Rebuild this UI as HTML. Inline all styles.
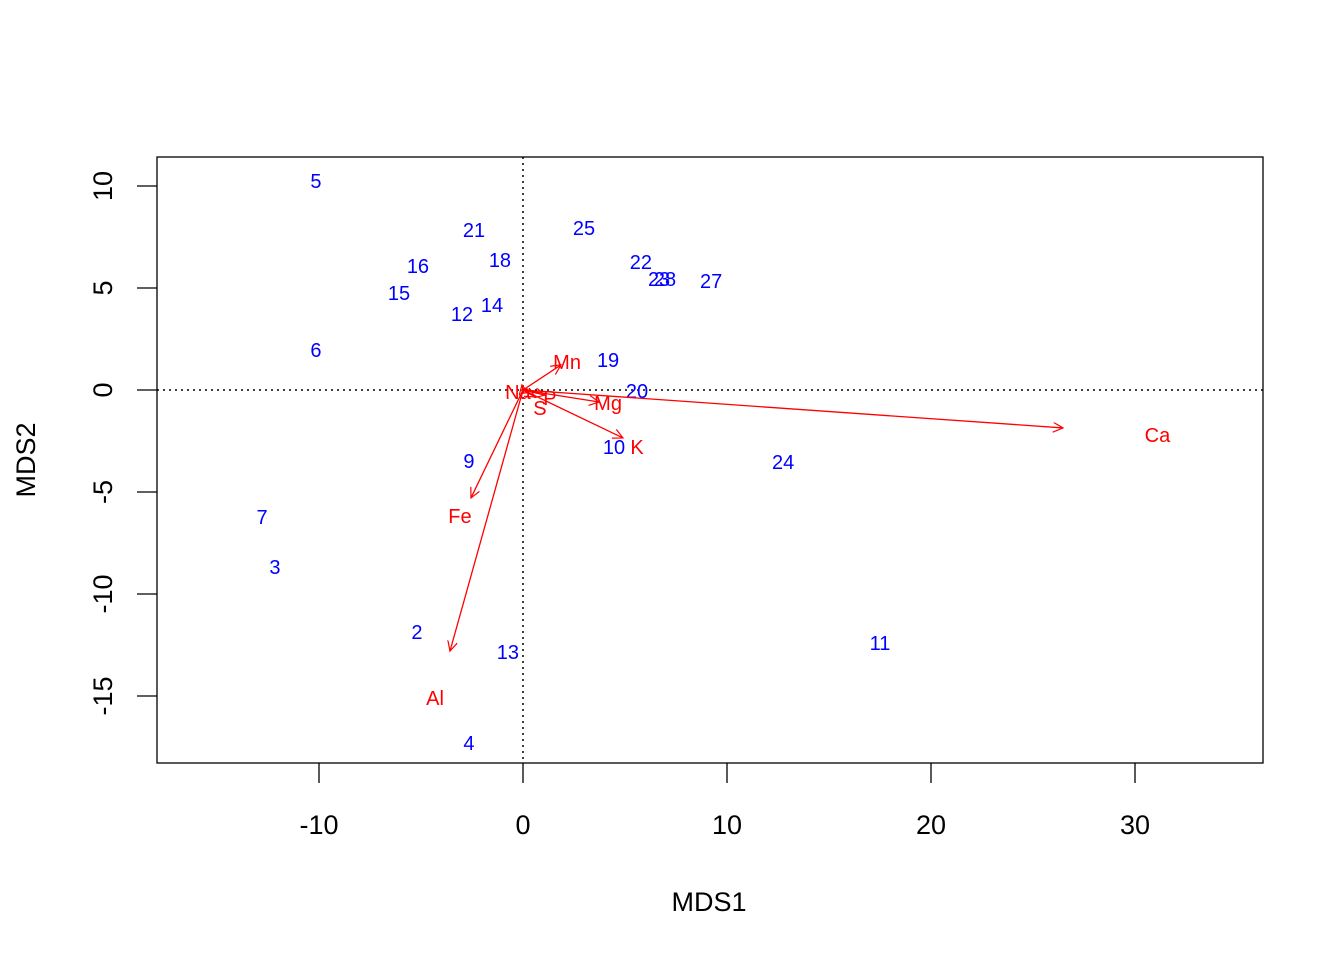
<!DOCTYPE html>
<html><head><meta charset="utf-8"><style>
body{margin:0;background:#fff}
svg{display:block;font-family:"Liberation Sans",Arial,sans-serif}
</style></head><body>
<svg id="c" width="1344" height="960"></svg>
<script>
const siteLabels=["5","21","25","16","18","22","23","28","27","15","14","12","6","19","20","9","10","24","7","3","2","13","11","4"];
const siteX=[-10.15,-2.4,2.99,-5.15,-1.13,5.78,6.67,6.96,9.22,-6.08,-1.52,-2.99,-10.15,4.17,5.59,-2.65,4.46,12.75,-12.79,-12.16,-5.2,-0.74,17.5,-2.65];
const siteY=[10.25,7.84,7.94,6.08,6.37,6.27,5.44,5.44,5.34,4.75,4.17,3.73,1.96,1.47,-0.05,-3.48,-2.79,-3.53,-6.23,-8.68,-11.86,-12.84,-12.4,-17.3];
const varLabels=["Ca","Mn","Mg","K","Fe","Al","Na","S","P"];
const varX=[26.47,1.86,3.73,4.9,-2.55,-3.58,-0.05,0.59,1.08];
const varY=[-1.86,1.23,-0.59,-2.35,-5.29,-12.8,0.25,-0.34,-0.25];
const varLabX=[31.1,2.16,4.17,5.59,-3.09,-4.31,-0.25,0.83,1.32];
const varLabY=[-2.21,1.37,-0.64,-2.79,-6.18,-15.1,-0.1,-0.88,-0.39];
const xTicks=[-10,0,10,20,30];
const yTicks=[-15,-10,-5,0,5,10];
const NS="http://www.w3.org/2000/svg",svg=document.getElementById('c');
const sx=v=>523+v*20.4, sy=v=>390-v*20.4;
function mk(t,a,p){const e=document.createElementNS(NS,t);for(const k in a)e.setAttribute(k,a[k]);(p||svg).appendChild(e);return e;}
const defs=mk('defs',{});
const m=mk('marker',{id:'ah',markerWidth:12,markerHeight:12,refX:10,refY:5,orient:'auto',markerUnits:'userSpaceOnUse'},defs);
mk('path',{d:'M0,0 L10,5 L0,10',fill:'none',stroke:'red','stroke-width':1.2},m);
let b=mk('rect',{x:157,y:157,width:1106,height:606,fill:'none',stroke:'#000','stroke-width':1.3});

let l=mk('line',{x1:157,x2:1263,y1:sy(0),y2:sy(0),stroke:'#000','stroke-dasharray':'2,4','stroke-width':1.5});

l=mk('line',{x1:sx(0),x2:sx(0),y1:157,y2:763,stroke:'#000','stroke-dasharray':'2,4','stroke-width':1.5});

xTicks.forEach(v=>{let t=mk('line',{x1:sx(v),x2:sx(v),y1:763,y2:783,stroke:'#000','stroke-width':1.3});

let s=mk('text',{x:sx(v),y:834,'text-anchor':'middle','font-size':27});s.textContent=String(v).replace('-','-');
});
yTicks.forEach(v=>{let t=mk('line',{x1:137,x2:157,y1:sy(v),y2:sy(v),stroke:'#000','stroke-width':1.3});

let s=mk('text',{x:112,y:sy(v),'text-anchor':'middle','font-size':27,transform:`rotate(-90 112 ${sy(v)})`});s.textContent=v;
});
let t=mk('text',{x:709,y:911,'text-anchor':'middle','font-size':27});t.textContent='MDS1';

t=mk('text',{x:35,y:460,'text-anchor':'middle','font-size':27,transform:'rotate(-90 35 460)'});t.textContent='MDS2';

siteLabels.forEach((s,i)=>{let e=mk('text',{x:sx(siteX[i]),y:sy(siteY[i])+7,'text-anchor':'middle','font-size':20,fill:'blue'});e.textContent=s;
});
varLabels.forEach((s,i)=>{let a=mk('line',{x1:sx(0),y1:sy(0),x2:sx(varX[i]),y2:sy(varY[i]),stroke:'red','stroke-width':1.3,'marker-end':'url(#ah)'});

let e=mk('text',{x:sx(varLabX[i]),y:sy(varLabY[i])+7,'text-anchor':'middle','font-size':20,fill:'red'});e.textContent=s;
});
</script>
</body></html>
